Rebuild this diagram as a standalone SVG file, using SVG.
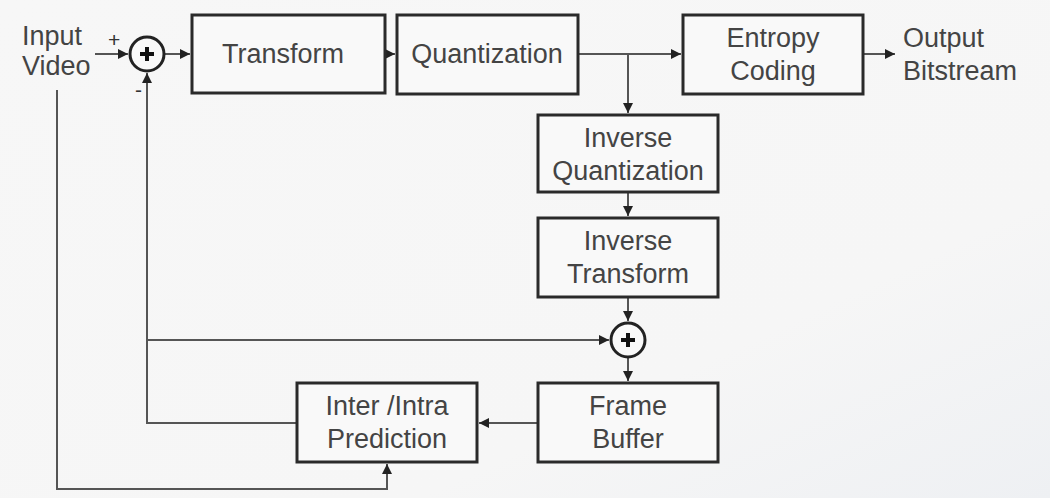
<svg xmlns="http://www.w3.org/2000/svg" width="1050" height="498" viewBox="0 0 1050 498">
<defs>
<style>
.box{fill:#f9f9f9;stroke:#2a2a2a;stroke-width:3}
.t{font-family:"Liberation Sans",Arial,sans-serif;font-size:27px;fill:#444;text-anchor:middle}
.tl{font-family:"Liberation Sans",Arial,sans-serif;font-size:27px;fill:#444}
.s{font-family:"Liberation Sans",Arial,sans-serif;font-size:21px;fill:#333}
.c{fill:none;stroke:#555;stroke-width:2}
.sum{fill:#f9f9f9;stroke:#222;stroke-width:3}
.plus{stroke:#111;stroke-width:4;fill:none}
</style>
<marker id="ah" viewBox="0 0 10 10" refX="10" refY="5" markerWidth="5" markerHeight="5" orient="auto" markerUnits="strokeWidth">
<path d="M0,0 L10,5 L0,10 z" fill="#222"/>
</marker>
<linearGradient id="bg" x1="0" y1="0" x2="1" y2="1">
<stop offset="0" stop-color="#f7f7f7"/>
<stop offset="0.7" stop-color="#f6f6f6"/>
<stop offset="1" stop-color="#eef0f3"/>
</linearGradient>
</defs>
<rect x="0" y="0" width="1050" height="498" fill="url(#bg)"/>

<g id="connectors">
<line class="c" x1="95" y1="54" x2="128" y2="54" marker-end="url(#ah)"/>
<line class="c" x1="165" y1="54" x2="190" y2="54" marker-end="url(#ah)"/>
<line class="c" x1="385" y1="54" x2="395" y2="54" marker-end="url(#ah)"/>
<line class="c" x1="578" y1="54" x2="681" y2="54" marker-end="url(#ah)"/>
<line class="c" x1="628" y1="54" x2="628" y2="113" marker-end="url(#ah)"/>
<line class="c" x1="863" y1="54" x2="895" y2="54" marker-end="url(#ah)"/>
<line class="c" x1="628" y1="192" x2="628" y2="216" marker-end="url(#ah)"/>
<line class="c" x1="628" y1="297" x2="628" y2="321" marker-end="url(#ah)"/>
<line class="c" x1="628" y1="358" x2="628" y2="381" marker-end="url(#ah)"/>
<line class="c" x1="538" y1="423" x2="479" y2="423" marker-end="url(#ah)"/>
<polyline class="c" points="297,423 147,423 147,73" marker-end="url(#ah)"/>
<line class="c" x1="147" y1="340" x2="609" y2="340" marker-end="url(#ah)"/>
<polyline class="c" points="57,90 57,489 387,489 387,464" marker-end="url(#ah)"/>
</g>

<g id="input-label">
<text class="tl" x="22" y="45">Input</text>
<text class="tl" x="22" y="75">Video</text>
<text class="s" x="108" y="47">+</text>
<text class="s" x="135" y="97">-</text>
</g>

<g id="sum1">
<circle class="sum" cx="147" cy="54" r="17"/>
<path class="plus" d="M140,54 H154 M147,47 V61"/>
</g>

<g id="transform">
<rect class="box" x="192" y="15" width="193" height="78"/>
<text class="t" x="283" y="63">Transform</text>
</g>

<g id="quantization">
<rect class="box" x="397" y="15" width="181" height="79"/>
<text class="t" x="487" y="63">Quantization</text>
</g>

<g id="entropy">
<rect class="box" x="683" y="15" width="180" height="79"/>
<text class="t" x="773" y="47">Entropy</text>
<text class="t" x="773" y="80">Coding</text>
</g>

<g id="output-label">
<text class="tl" x="903" y="47">Output</text>
<text class="tl" x="903" y="80">Bitstream</text>
</g>

<g id="inv-quant">
<rect class="box" x="538" y="115" width="180" height="77"/>
<text class="t" x="628" y="147">Inverse</text>
<text class="t" x="628" y="180">Quantization</text>
</g>

<g id="inv-transform">
<rect class="box" x="538" y="218" width="180" height="79"/>
<text class="t" x="628" y="250">Inverse</text>
<text class="t" x="628" y="283">Transform</text>
</g>

<g id="sum2">
<circle class="sum" cx="628" cy="340" r="17"/>
<path class="plus" d="M621,340 H635 M628,333 V347"/>
</g>

<g id="frame-buffer">
<rect class="box" x="538" y="383" width="180" height="79"/>
<text class="t" x="628" y="415">Frame</text>
<text class="t" x="628" y="448">Buffer</text>
</g>

<g id="prediction">
<rect class="box" x="297" y="383" width="180" height="79"/>
<text class="t" x="387" y="415">Inter /Intra</text>
<text class="t" x="387" y="448">Prediction</text>
</g>
</svg>
